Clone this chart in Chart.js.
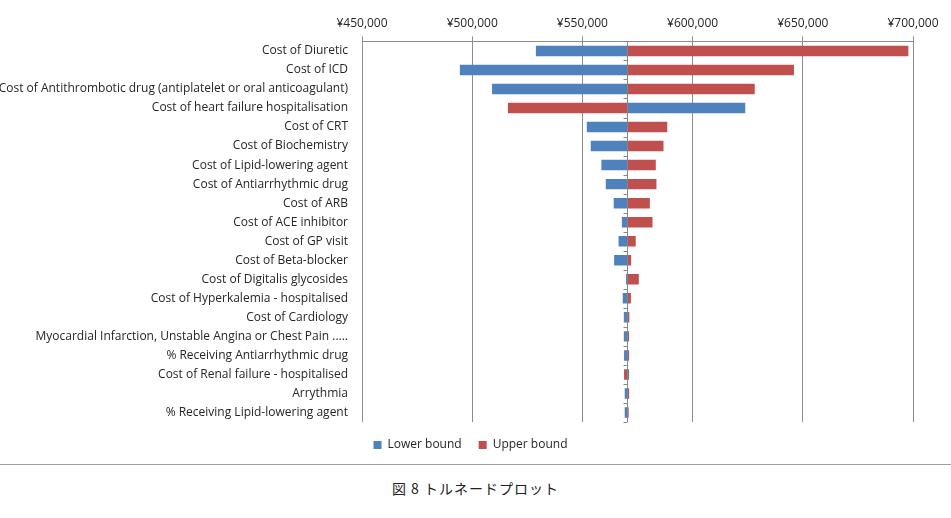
<!DOCTYPE html>
<html>
<head>
<meta charset="utf-8">
<script src="https://cdn.jsdelivr.net/npm/chart.js@4.4.0/dist/chart.umd.min.js"></script>
<style>
  body { margin: 0; background: #fff; }
  #wrap { width: 951px; height: 461px; position: relative; }
  #rule { position: absolute; left: 0; top: 464px; width: 951px; height: 1px; background: #a0a0a0; }
  #caption { position: absolute; left: 0; top: 478px; width: 951px; text-align: center; font-family: "Noto Sans CJK JP", sans-serif; font-size: 14px; color: #222; letter-spacing: 1px; }
</style>
</head>
<body>
<div id="wrap"><canvas id="mycanvas"></canvas></div>
<div id="rule"></div>
<div id="caption">図 8 トルネードプロット</div>
<script>
// tornado data (yen)
var baseValue = 570300;
var labels = [
  'Cost of Diuretic',
  'Cost of ICD',
  'Cost of Antithrombotic drug (antiplatelet or oral anticoagulant)',
  'Cost of heart failure hospitalisation',
  'Cost of CRT',
  'Cost of Biochemistry',
  'Cost of Lipid-lowering agent',
  'Cost of Antiarrhythmic drug',
  'Cost of ARB',
  'Cost of ACE inhibitor',
  'Cost of GP visit',
  'Cost of Beta-blocker',
  'Cost of Digitalis glycosides',
  'Cost of Hyperkalemia - hospitalised',
  'Cost of Cardiology',
  'Myocardial Infarction, Unstable Angina or Chest Pain .....',
  '% Receiving Antiarrhythmic drug',
  'Cost of Renal failure - hospitalised',
  'Arrythmia',
  '% Receiving Lipid-lowering agent'
];
var lowerBound = [528900, 494400, 509000, 623900, 552000, 553800, 558600, 560600, 564200, 567900,
                  566400, 564400, 569800, 568300, 568800, 568800, 568900, 571200, 569200, 569200];
var upperBound = [697900, 646000, 628200, 516200, 588500, 586800, 583300, 583600, 580600, 581800,
                  574200, 572100, 575600, 572000, 571300, 571200, 571200, 568900, 571200, 571000];
var xTicks = [450000, 500000, 550000, 600000, 650000, 700000];

var lowData = [];
var highData = [];
for (var i in labels) {
  lowData.push([baseValue, lowerBound[i]]);
  highData.push([baseValue, upperBound[i]]);
}

// vertical base line with small ticks between categories
var baseLine = {
  id: 'baseLine',
  afterLayout: function(chart) {
    // nudge the legend a little to the right, like the original
    chart.legend.left += 14;
    chart.legend.right += 14;
  },
  afterDatasetsDraw: function(chart) {
    var ctx = chart.ctx;
    var xs = chart.scales.x, ys = chart.scales.y;
    var x = Math.round(xs.getPixelForValue(baseValue)) + 0.5;
    var area = chart.chartArea;
    ctx.save();
    ctx.strokeStyle = '#868686';
    ctx.lineWidth = 1;
    ctx.beginPath();
    ctx.moveTo(x, area.top);
    ctx.lineTo(x, area.bottom);
    var step = ys.getPixelForValue(1) - ys.getPixelForValue(0);
    for (var k = 0; k <= labels.length; k++) {
      var y = Math.round(ys.getPixelForValue(k) - step / 2) + 0.5;
      ctx.moveTo(x - 4, y);
      ctx.lineTo(x, y);
    }
    ctx.stroke();
    ctx.restore();
  }
};

Chart.defaults.font.family = '"Open Sans", sans-serif';
Chart.defaults.font.size = 12;
Chart.defaults.color = '#262626';

var chartdata = {
  labels: labels,
  datasets: [{
    label: 'Lower bound',
    backgroundColor: '#4F81BD',
    data: lowData,
    grouped: false
  }, {
    label: 'Upper bound',
    backgroundColor: '#C0504D',
    data: highData,
    grouped: false
  }]
};

var barGraph = new Chart(document.getElementById('mycanvas'), {
  type: 'bar',
  data: chartdata,
  options: {
    indexAxis: 'y',
    responsive: true,
    maintainAspectRatio: false,
    animation: false,
    barPercentage: 0.55,
    categoryPercentage: 1,
    layout: { padding: { top: 10, right: 38, bottom: 0, left: 0 } },
    plugins: {
      legend: {
        position: 'bottom',
        labels: { boxWidth: 8, boxHeight: 8, padding: 17 }
      },
      tooltip: { enabled: false }
    },
    scales: {
      x: {
        position: 'top',
        min: 450000,
        max: 700000,
        afterBuildTicks: function(scale) {
          scale.ticks = xTicks.map(function(v) { return { value: v }; });
        },
        ticks: {
          padding: 6,
          callback: function(v) { return '¥' + Number(v).toLocaleString('en-US'); }
        },
        grid: { color: '#8c8c8c', tickLength: 5 },
        border: { color: '#8c8c8c' }
      },
      y: {
        grid: { display: false },
        border: { display: false },
        ticks: { padding: 6 },
        afterFit: function(scale) { scale.width = 362; }
      }
    }
  },
  plugins: [baseLine]
});
</script>
</body>
</html>
